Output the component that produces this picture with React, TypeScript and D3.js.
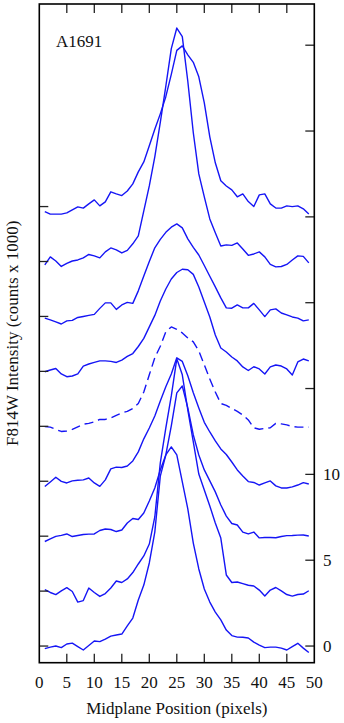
import React from 'react';
import * as d3 from 'd3';

// pixel positions along the midplane (x values of every profile)
const pixelPositions = d3.range(1, 50);

// vertical offsets used to stack the profiles (counts x 1000)
const offsets = [0, 3.2, 6.4, 9.6, 12.8, 16, 19.2, 22.4, 25.6];

// profiles, bottom to top (counts x 1000, before offset)
const profile0 = [-0.15, -0.06, 0, -0.09, 0.12, 0.17, -0.03, -0.23, 0.03, 0.29, 0.26, 0.41, 0.58, 0.64, 0.7, 1.17, 1.63, 2.68, 3.55, 4.84, 6.64, 9.9, 11.13, 11.6, 11.13, 9.56, 7.99, 6.0, 4.49, 3.32, 2.56, 1.98, 1.52, 0.93, 0.61, 0.52, 0.51, 0.47, 0.23, 0.06, -0.09, -0.06, -0.06, -0.12, -0.23, -0.03, 0.16, -0.12, -0.38];
const profile1 = [0.09, -0.08, -0.2, 0.01, 0.2, -0.02, -0.64, -0.55, 0.18, -0.08, -0.31, -0.14, 0.18, 0.59, 0.5, 0.71, 1.08, 1.58, 2.05, 2.74, 4.32, 7.47, 9.5, 11.37, 13.53, 12.6, 10.55, 8.69, 6.82, 5.89, 4.96, 3.97, 3.09, 0.94, 0.5, 0.53, 0.44, 0.34, 0.3, 0.06, -0.29, 0.06, 0.21, 0.01, -0.2, -0.29, -0.2, -0.17, 0.02];
const profile2 = [-0.31, -0.16, -0.01, 0.05, 0.13, -0.02, 0.04, 0.1, 0.12, 0.13, 0.33, 0.42, 0.39, 0.27, 0.36, 0.77, 1.03, 0.97, 1.35, 2.05, 2.81, 3.86, 4.73, 6.42, 8.35, 8.75, 7.47, 5.9, 4.73, 3.86, 3.22, 2.58, 1.82, 1.17, 0.74, 0.65, 0.24, 0.13, 0.24, -0.1, -0.08, -0.08, -0.09, -0.02, 0.03, 0.04, 0.06, 0.07, 0.01];
const profile3 = [-0.31, -0.04, 0.23, -0.01, -0.1, 0.02, 0.06, 0.08, 0.19, -0.1, -0.3, 0.08, 0.72, 0.82, 0.8, 0.89, 1.18, 1.71, 2.47, 3.1, 3.8, 4.68, 5.5, 6.25, 7.19, 6.98, 6.14, 5.15, 4.27, 3.43, 2.87, 2.35, 1.88, 1.56, 1.12, 0.66, 0.31, -0.02, -0.07, -0.22, -0.1, 0.02, -0.27, -0.39, -0.39, -0.33, -0.22, -0.08, -0.16];
const profile4 = [-0.02, -0.05, -0.18, -0.3, -0.27, -0.18, -0.03, 0.12, 0.17, 0.26, 0.4, 0.4, 0.49, 0.64, 0.78, 0.87, 1.04, 1.33, 2.0, 3.0, 3.99, 4.66, 5.5, 5.79, 5.65, 5.44, 5.15, 4.92, 4.39, 3.58, 2.76, 2.0, 1.33, 1.22, 1.04, 0.87, 0.66, 0.37, -0.09, -0.17, -0.12, -0.08, 0.17, 0.14, 0.08, -0.01, -0.05, -0.05, -0.05];
const profile5 = [-0.02, 0.08, 0.17, -0.15, -0.31, -0.27, -0.15, 0.31, 0.43, 0.52, 0.61, 0.61, 0.58, 0.52, 0.66, 0.87, 1.04, 1.45, 1.92, 2.59, 3.26, 4.1, 4.8, 5.38, 5.76, 5.95, 5.92, 5.65, 4.92, 4.04, 3.17, 2.12, 1.36, 1.13, 0.84, 0.61, 0.26, 0.05, 0.27, 0.14, -0.15, 0.26, 0.37, 0.31, 0.14, -0.21, 0.55, 0.72, 0.61];
const profile6 = [-0.1, -0.2, -0.32, -0.44, -0.26, -0.23, -0.06, 0, 0.06, 0.12, 0.47, 0.79, 0.79, 0.41, 0.67, 0.82, 0.76, 1.49, 2.35, 3.2, 4.0, 4.49, 4.9, 5.2, 5.39, 5.16, 4.52, 4.02, 3.58, 2.97, 2.34, 1.72, 1.08, 0.5, 0.48, 0.67, 0.5, 0.5, 0.76, 0.38, -0.01, 0.38, 0.44, 0.2, 0.09, -0.03, -0.1, -0.26, -0.2];
const profile7 = [-0.2, 0.27, 0.03, -0.29, -0.11, 0.03, 0.09, 0.21, 0.41, 0.33, 0.21, 0.56, 0.79, 0.68, 0.5, 0.65, 1.03, 1.49, 2.95, 4.4, 6.1, 8.1, 10.2, 12.4, 13.6, 13.1, 10.5, 7.5, 5.1, 3.76, 2.48, 1.67, 0.9, 0.97, 0.94, 1.08, 0.73, 0.36, 0.44, 0.56, 0.27, -0.17, -0.31, -0.29, -0.17, 0.09, 0.33, 0.3, -0.08];
const profile8 = [-0.29, -0.44, -0.44, -0.44, -0.37, -0.19, -0.02, -0.09, 0.16, 0.39, 0.04, 0.27, 0.86, 0.74, 0.64, 0.91, 1.32, 2.02, 2.6, 3.54, 4.5, 5.4, 6.4, 7.7, 9.1, 9.36, 8.84, 8.4, 7.56, 6.04, 4.06, 2.55, 1.5, 1.2, 0.97, 0.57, 0.74, 0.29, 0, 0.68, 0.74, 0.16, -0.08, -0.09, 0.04, 0, 0.04, -0.13, -0.43];

const profiles = [profile0, profile1, profile2, profile3, profile4, profile5, profile6, profile7, profile8];
const dashedProfile = 4;

const xTicks = [0, 5, 10, 15, 20, 25, 30, 35, 40, 45, 50];
const rightTicks = [0, 5, 10, 15, 20, 25, 30, 35];
const rightTickLabels = [0, 5, 10];

const W = 344;
const H = 723;
const left = 39.3, right = 314.3, top = 4, bottom = 662.7;
const font = '"Liberation Serif", "Times New Roman", serif';
const blue = '#1515f5';

export default function App() {
  const x = d3.scaleLinear().domain([0, 50]).range([left, right]);
  const y = d3.scaleLinear().domain([-0.97, 37.4]).range([bottom, top]);
  const tickLen = 9;

  return (
    <div style={{ position: 'absolute', left: 0, top: 0 }}>
      <svg width={W} height={H} style={{ display: 'block', background: '#fff' }}>
        {/* profiles */}
        {profiles.map((p, k) => {
          const line = d3.line<number>()
            .x((_, i) => x(pixelPositions[i]))
            .y((v) => y(v + offsets[k]));
          return (
            <path key={k} d={line(p) || ''} fill="none" stroke={blue} strokeWidth={1.4}
              strokeDasharray={k === dashedProfile ? '9,5' : undefined} strokeLinejoin="round" />
          );
        })}

        {/* ticks */}
        {xTicks.slice(1, -1).map((t) => (
          <g key={'xt' + t} stroke="#222" strokeWidth={1.3}>
            <line x1={x(t)} x2={x(t)} y1={bottom} y2={bottom - tickLen} />
            <line x1={x(t)} x2={x(t)} y1={top} y2={top + tickLen} />
          </g>
        ))}
        {offsets.map((o) => (
          <line key={'lt' + o} x1={left} x2={left + tickLen} y1={y(o)} y2={y(o)} stroke="#222" strokeWidth={1.3} />
        ))}
        {rightTicks.map((t) => (
          <line key={'rt' + t} x1={right} x2={right - tickLen} y1={y(t)} y2={y(t)} stroke="#222" strokeWidth={1.3} />
        ))}

        {/* frame */}
        <rect x={left} y={top} width={right - left} height={bottom - top} fill="none" stroke="#000" strokeWidth={1.6} />

        {/* tick labels */}
        {xTicks.map((t) => (
          <text key={'xl' + t} x={x(t)} y={688} textAnchor="middle" fontFamily={font} fontSize={17} fill="#111">{t}</text>
        ))}
        {rightTickLabels.map((t) => (
          <text key={'rl' + t} x={323} y={y(t) + 6} fontFamily={font} fontSize={17} fill="#111">{t}</text>
        ))}

        {/* titles */}
        <text x={(left + right) / 2} y={714} textAnchor="middle" fontFamily={font} fontSize={17} fill="#111">Midplane Position (pixels)</text>
        <text transform={`translate(18,${(top + bottom) / 2}) rotate(-90)`} textAnchor="middle" fontFamily={font} fontSize={17} fill="#111">F814W Intensity (counts x 1000)</text>
        <text x={56} y={47} fontFamily={font} fontSize={17} fill="#111">A1691</text>
      </svg>
    </div>
  );
}
